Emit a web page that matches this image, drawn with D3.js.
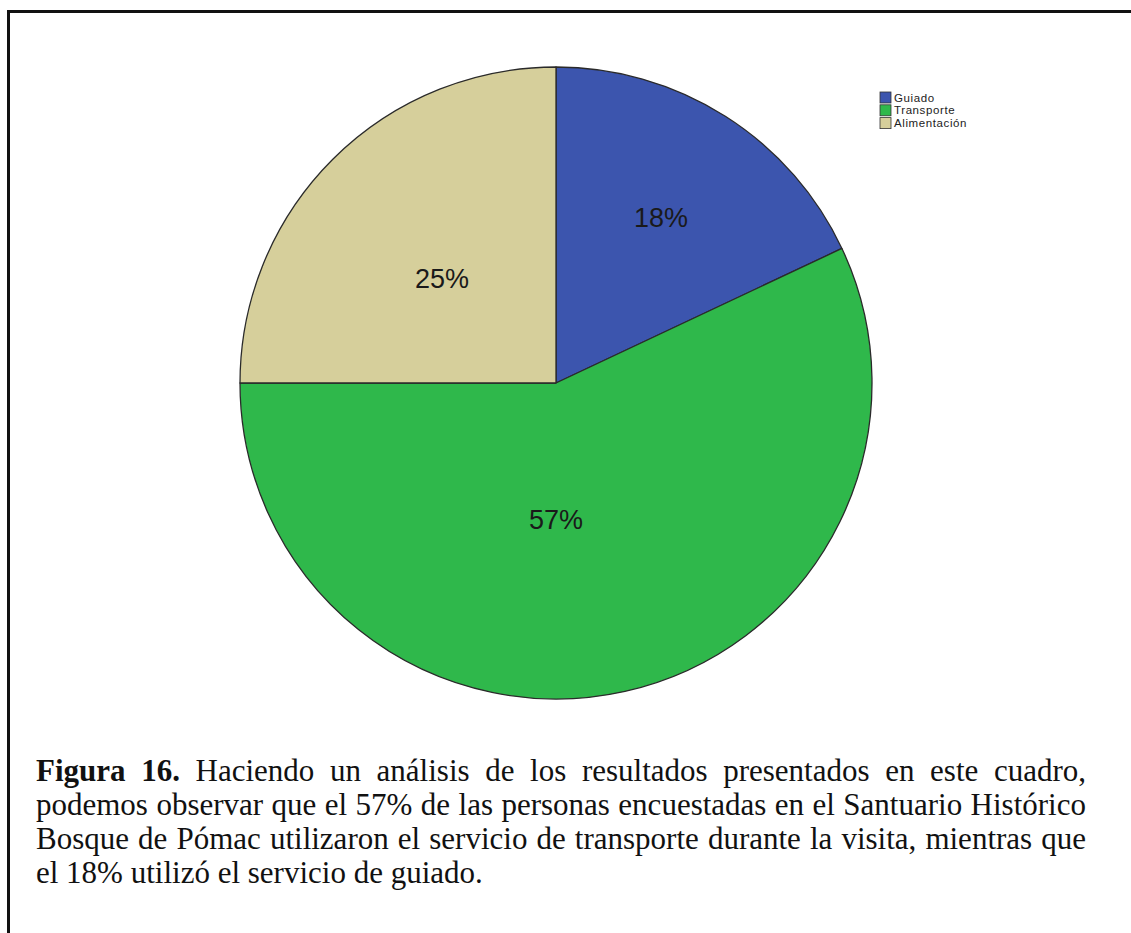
<!DOCTYPE html>
<html>
<head>
<meta charset="utf-8">
<script src="https://cdn.jsdelivr.net/npm/d3@7"></script>
<style>
  body { margin: 0; background: #fff; }
  #wrap { position: relative; width: 1131px; height: 933px; overflow: hidden; }
  #caption {
    position: absolute; left: 36px; top: 754px; width: 1050px;
    font-family: "Liberation Serif", "Times New Roman", serif;
    font-size: 31px; line-height: 34px; color: #111;
  }
  #caption .ln { text-align: justify; text-align-last: justify; white-space: nowrap; }
  #caption .ln.last { text-align-last: left; }
</style>
</head>
<body>
<div id="wrap">
  <svg id="chart" width="1131" height="933"></svg>
  <div id="caption"></div>
</div>
<script>
// data
var categories = ["Guiado", "Transporte", "Alimentación"];
var percents = [18, 57, 25];
var colors = ["#3c55ae", "#2fb84b", "#d6cf9b"];
var captionLines = [
  ["Figura 16.", " Haciendo un análisis de los resultados presentados en este cuadro,"],
  ["", "podemos observar que el 57% de las personas encuestadas en el Santuario Histórico"],
  ["", "Bosque de Pómac utilizaron el servicio de transporte durante la visita, mientras que"],
  ["", "el 18% utilizó el servicio de guiado."]
];

var data = categories.map(function(c, i) {
  return { name: c, value: percents[i], color: colors[i] };
});

var svg = d3.select("#chart");

// outer frame (left + top only, cut by the image edge)
svg.append("path")
  .attr("d", "M8.5,933 V11.5 H1131")
  .attr("fill", "none")
  .attr("stroke", "#111")
  .attr("stroke-width", 3);

var cx = 556, cy = 383, r = 316;

var pie = d3.pie()
  .value(function(d) { return d.value; })
  .sort(null);

var arc = d3.arc().innerRadius(0).outerRadius(r);

var g = svg.append("g").attr("transform", "translate(" + cx + "," + cy + ")");

var arcs = pie(data);

g.selectAll(".slice")
  .data(arcs)
  .enter().append("path")
  .attr("class", "slice")
  .attr("d", arc)
  .attr("fill", function(d) { return d.data.color; })
  .attr("stroke", "#2a2a2a")
  .attr("stroke-width", 1.3)
  .attr("stroke-linejoin", "round");

// labels: radial fraction + small angle shift (deg), tuned by eye
var labelFrac = [0.62, 0.43, 0.49];
var labelShift = [0, 12.6, -2.4];
g.selectAll(".lbl")
  .data(arcs)
  .enter().append("text")
  .attr("class", "lbl")
  .attr("transform", function(d, i) {
    var a = (d.startAngle + d.endAngle) / 2 + labelShift[i] * Math.PI / 180;
    var rr = r * labelFrac[i];
    return "translate(" + (Math.sin(a) * rr) + "," + (-Math.cos(a) * rr) + ")";
  })
  .attr("text-anchor", "middle")
  .attr("dy", "0.36em")
  .attr("font-family", "Liberation Sans, Arial, sans-serif")
  .attr("font-size", 27)
  .attr("fill", "#1a1a1a")
  .text(function(d) { return d.data.value + "%"; });

// legend
var legend = svg.append("g").attr("transform", "translate(880,92)");
var rows = legend.selectAll(".row")
  .data(data)
  .enter().append("g")
  .attr("class", "row")
  .attr("transform", function(d, i) { return "translate(0," + (i * 12.8) + ")"; });

rows.append("rect")
  .attr("width", 11)
  .attr("height", 11)
  .attr("fill", function(d) { return d.color; })
  .attr("stroke", "#333")
  .attr("stroke-width", 0.8);

rows.append("text")
  .attr("x", 14)
  .attr("y", 5.5)
  .attr("dy", "0.35em")
  .attr("font-family", "Liberation Sans, Arial, sans-serif")
  .attr("font-size", 11.5)
  .attr("letter-spacing", 0.6)
  .attr("fill", "#222")
  .text(function(d) { return d.name; });

// caption
var cap = d3.select("#caption");
captionLines.forEach(function(l, i) {
  var div = cap.append("div").attr("class", "ln" + (i === captionLines.length - 1 ? " last" : ""));
  if (l[0]) div.append("b").text(l[0]);
  div.append("span").text(l[1]);
});
</script>
</body>
</html>
